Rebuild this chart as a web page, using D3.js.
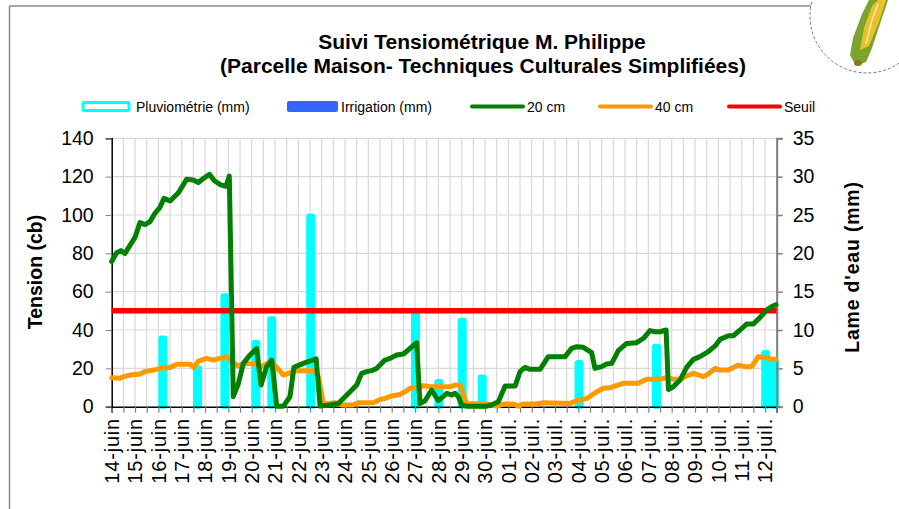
<!DOCTYPE html>
<html>
<head>
<meta charset="utf-8">
<script src="https://cdn.jsdelivr.net/npm/d3@7"></script>
<style>
  body { margin: 0; background: #fff; }
  svg { display: block; font-family: "Liberation Sans", Arial, sans-serif; }
</style>
</head>
<body>
<div id="chart"></div>
<script>
// day labels (one per day, from 14-juin)
var dayLabels = ["14-juin", "15-juin", "16-juin", "17-juin", "18-juin", "19-juin", "20-juin",
  "21-juin", "22-juin", "23-juin", "24-juin", "25-juin", "26-juin", "27-juin", "28-juin",
  "29-juin", "30-juin", "01-juil.", "02-juil.", "03-juil.", "04-juil.", "05-juil.", "06-juil.",
  "07-juil.", "08-juil.", "09-juil.", "10-juil.", "11-juil.", "12-juil."];

// 20 cm probe : time (days since 14-juin 0h) and tension (cb)
var t20 = [0, 0.21, 0.39, 0.57, 0.79, 1.0, 1.21, 1.43, 1.64, 1.86, 2.07, 2.24, 2.5, 2.86, 3.21, 3.5,
  3.71, 3.93, 4.19, 4.39, 4.67, 4.9, 5.04, 5.21, 5.43, 5.64, 5.93, 6.21, 6.4, 6.64, 6.86, 7.07,
  7.36, 7.64, 7.81, 8.21, 8.76, 8.93, 9.36, 9.71, 10.0, 10.29, 10.5, 10.71, 10.93, 11.14, 11.36,
  11.71, 11.93, 12.21, 12.5, 12.71, 13.07, 13.21, 13.43, 13.71, 14.0, 14.36, 14.57, 14.71, 14.86,
  15.0, 15.21, 16.07, 16.36, 16.57, 16.86, 17.29, 17.5, 17.71, 17.93, 18.36, 18.71, 19.43, 19.71,
  19.93, 20.21, 20.57, 20.71, 21.0, 21.21, 21.43, 21.71, 22.07, 22.5, 22.79, 23.07, 23.29, 23.5,
  23.76, 23.86, 24.07, 24.36, 24.64, 24.93, 25.21, 25.57, 25.86, 26.07, 26.43, 26.64, 26.93,
  27.21, 27.5, 27.79, 28.07, 28.29, 28.47];
var v20 = [75.7, 80.3, 81.4, 80, 84.3, 88.3, 96, 95, 96.5, 101, 104, 108.7, 107.3, 111.6, 118.6, 118.2,
  116.9, 119, 121.2, 118, 115.7, 115, 120.3, 5.2, 12.2, 22.6, 27, 30.4, 11.3, 20.9, 24.3, 0.3,
  0.3, 5.2, 20.5, 22.6, 25, 0.3, 0.9, 1.7, 5.2, 8.7, 11.3, 17.4, 18.3, 18.8, 20,
  24.3, 25.2, 27, 27.5, 29.6, 33.4, 1.7, 3.1, 8.7, 3.1, 7, 6.1, 7, 5.2,
  0.9, 0.3, 0.3, 1.4, 2.6, 10.8, 10.8, 18.3, 20.5, 19.5, 19.5, 26.1, 26.1, 30.4,
  31.3, 31, 28.2, 20, 20.9, 22.3, 22.6, 29.2, 33, 33.4, 35.7, 39.7, 39.1, 39.1,
  40, 9, 10.4, 13.9, 20.5, 24.7, 26.1, 28.7, 31.7, 35.1, 37, 37, 40,
  43.1, 43.1, 46.6, 50.4, 52.2, 53.2];

// 40 cm probe
var t40 = [0, 0.36, 0.5, 0.79, 1.21, 1.43, 1.79, 2.07, 2.5, 2.79, 3.36, 3.53, 3.71, 4.07, 4.36, 4.64,
  4.96, 5.14, 5.43, 5.71, 6.21, 6.43, 6.79, 6.93, 7.36, 7.64, 7.86, 8.71, 8.86, 9.07, 9.14, 9.57,
  9.86, 10.36, 10.57, 11.21, 11.5, 11.71, 12.0, 12.36, 12.57, 12.79, 13.21, 13.36, 13.64, 14.5,
  14.71, 14.93, 15.21, 16.07, 16.5, 16.79, 17.21, 17.43, 17.64, 18.21, 18.5, 19.64, 19.93, 20.36,
  20.79, 21.07, 21.36, 21.57, 21.93, 22.57, 22.93, 23.5, 23.79, 24.07, 24.36, 24.64, 24.93, 25.36,
  25.57, 25.86, 26.07, 26.43, 26.86, 27.14, 27.43, 27.71, 28.0, 28.29, 28.47];
var v40 = [15.1, 14.8, 15.7, 16.5, 17, 18.3, 19.1, 20, 20.5, 22.1, 22.1, 20.5, 23.8, 25.2, 24.3, 25.2,
  26.1, 23.5, 21.2, 22.6, 22.1, 20.9, 23.5, 22.6, 16.5, 17.7, 18.8, 18.8, 15.5, 1.7, 1.4, 2.1,
  0.9, 0.9, 2.1, 2.1, 3.8, 4.3, 5.6, 6.4, 7.8, 9.6, 10.1, 11, 10.4, 10.4,
  11.3, 11.3, 1.7, 1.4, 0.3, 1.4, 1.4, 0.3, 1.4, 1.4, 2.1, 1.7, 3.1, 4.3,
  7.8, 9.6, 9.9, 10.8, 12.2, 12.2, 14.3, 14.3, 15.3, 14.3, 14.3, 16, 17.4, 15.7,
  17, 20, 19.1, 19.1, 21.7, 20.9, 20.9, 26.1, 25.7, 24.7, 24.7];

// rainfall (mm)
var tPluie = [2.19, 3.68, 4.85, 6.18, 6.86, 8.53, 13.02, 14.02, 15.02, 15.88, 20.03, 23.35, 28.03, 28.4];
var vPluie = [9.3, 5.4, 14.8, 8.7, 11.8, 25.2, 12.6, 3.6, 11.6, 4.2, 6.1, 8.2, 7.4, 6.3];

var seuil = 50;
var yTicks = [0, 20, 40, 60, 80, 100, 120, 140];
var y2Ticks = [0, 5, 10, 15, 20, 25, 30, 35];

var W = 899, H = 509;
var svg = d3.select("#chart").append("svg").attr("width", W).attr("height", H);

// frame
svg.append("line").attr("x1", 9.5).attr("x2", 812).attr("y1", 6).attr("y2", 6)
  .attr("stroke", "#8a8a8a").attr("stroke-width", 1.5);
svg.append("line").attr("x1", 9.5).attr("x2", 9.5).attr("y1", 6).attr("y2", H)
  .attr("stroke", "#8a8a8a").attr("stroke-width", 1.5);

// corner logo (dashed circle + corn ear)
svg.append("circle").attr("cx", 867).attr("cy", 16).attr("r", 57)
  .attr("fill", "#fff").attr("stroke", "#555").attr("stroke-dasharray", "3,2").attr("stroke-width", 0.8);
svg.append("path").attr("d", "M856,66 L850,55 L853,38 L862,14 L869,0 L888,0 L880,24 L872,48 L866,62 Z")
  .attr("fill", "#7aa52a");
svg.append("path").attr("d", "M860,50 L864,28 L872,6 L878,0 L886,0 L879,22 L869,46 Z")
  .attr("fill", "#e8c032");
svg.append("path").attr("d", "M866,44 L872,20 L878,4").attr("stroke", "#fff4b0").attr("stroke-width", 1.2).attr("fill", "none");
svg.append("ellipse").attr("cx", 858).attr("cy", 63).attr("rx", 4).attr("ry", 3).attr("fill", "#8a7a1a");

// title
svg.append("text").attr("x", 482).attr("y", 49).attr("text-anchor", "middle")
  .style("font-size", "21px").style("font-weight", "bold").text("Suivi Tensiométrique M. Philippe");
svg.append("text").attr("x", 483).attr("y", 73).attr("text-anchor", "middle")
  .style("font-size", "21px").style("font-weight", "bold").text("(Parcelle Maison- Techniques Culturales Simplifiées)");

// scales
var x = d3.scaleLinear().domain([0, 28.5]).range([111.7, 776.7]);
var y = d3.scaleLinear().domain([0, 140]).range([406.7, 138.3]);
var y2 = d3.scaleLinear().domain([0, 35]).range([406.7, 138.3]);

// gridlines
var halfDays = d3.range(0, 57.5, 1).map(function (d) { return d / 2; });
svg.append("g").selectAll("line").data(halfDays.slice(1)).enter().append("line")
  .attr("x1", function (d) { return x(d); }).attr("x2", function (d) { return x(d); })
  .attr("y1", y(140)).attr("y2", y(0))
  .attr("stroke", "#d9d9d9").attr("stroke-width", 1.2);
svg.append("g").selectAll("line").data(yTicks.slice(1)).enter().append("line")
  .attr("x1", x(0)).attr("x2", x(28.5))
  .attr("y1", function (d) { return y(d); }).attr("y2", function (d) { return y(d); })
  .attr("stroke", "#d9d9d9").attr("stroke-width", 1.2);

// rain bars
svg.append("g").selectAll("rect").data(tPluie).enter().append("rect")
  .attr("x", function (d) { return x(d) - 4.5; })
  .attr("width", 9)
  .attr("y", function (d, i) { return y2(vPluie[i]); })
  .attr("height", function (d, i) { return y2(0) + 2 - y2(vPluie[i]); })
  .attr("rx", 3)
  .attr("fill", "#00ffff");

// axes
var xAxis = d3.axisBottom(x).tickValues(halfDays).tickSize(6).tickFormat("");
var gx = svg.append("g").attr("transform", "translate(0," + y(0) + ")").call(xAxis);
gx.select(".domain").attr("stroke", "#000").attr("stroke-width", 1.5);
gx.selectAll(".tick line").attr("stroke", "#808080").attr("stroke-width", 1.2);

svg.append("g").selectAll("text").data(dayLabels).enter().append("text")
  .attr("transform", function (d, i) { return "translate(" + x(i) + "," + 418 + ") rotate(-90)"; })
  .attr("dy", "0.36em")
  .attr("text-anchor", "end")
  .style("font-size", "20px")
  .style("letter-spacing", "0.8px")
  .text(function (d) { return d; });

var yAxis = d3.axisLeft(y).tickValues(yTicks).tickSize(6).tickPadding(12);
var gy = svg.append("g").attr("transform", "translate(" + x(0) + ",0)").call(yAxis);
gy.select(".domain").attr("stroke", "#000").attr("stroke-width", 1.5);
gy.selectAll(".tick line").attr("stroke", "#808080");
gy.selectAll("text").style("font-size", "19.5px").attr("fill", "#000").attr("font-family", "Liberation Sans, Arial, sans-serif");

var y2Axis = d3.axisRight(y2).tickValues(y2Ticks).tickSize(6).tickPadding(10);
var gy2 = svg.append("g").attr("transform", "translate(" + x(28.5) + ",0)").call(y2Axis);
gy2.select(".domain").attr("stroke", "#808080").attr("stroke-width", 2);
gy2.selectAll(".tick line").attr("stroke", "#808080").attr("stroke-width", 1.5);
gy2.selectAll("text").style("font-size", "19.5px").attr("fill", "#000").attr("font-family", "Liberation Sans, Arial, sans-serif");

svg.append("text").attr("transform", "translate(42,272) rotate(-90)")
  .attr("text-anchor", "middle").style("font-size", "19.5px").style("font-weight", "bold")
  .text("Tension (cb)");
svg.append("text").attr("transform", "translate(859,267) rotate(-90)")
  .attr("text-anchor", "middle").style("font-size", "19.5px").style("font-weight", "bold")
  .style("letter-spacing", "0.8px")
  .text("Lame d'eau (mm)");

// seuil
svg.append("line").attr("x1", x(0)).attr("x2", x(28.5)).attr("y1", y(seuil)).attr("y2", y(seuil))
  .attr("stroke", "#ff0000").attr("stroke-width", 5.5);

// lines
var line = d3.line().x(function (d) { return x(d[0]); }).y(function (d) { return y(d[1]); });
svg.append("path").datum(d3.zip(t40, v40)).attr("d", line)
  .attr("fill", "none").attr("stroke", "#ff9900").attr("stroke-width", 5)
  .attr("stroke-linejoin", "round").attr("stroke-linecap", "round");
svg.append("path").datum(d3.zip(t20, v20)).attr("d", line)
  .attr("fill", "none").attr("stroke", "#008000").attr("stroke-width", 5)
  .attr("stroke-linejoin", "round").attr("stroke-linecap", "round");

// legend
var lg = svg.append("g").style("font-size", "14px");
lg.append("rect").attr("x", 83).attr("y", 102.5).attr("width", 46).attr("height", 8)
  .attr("fill", "#fff").attr("stroke", "#00ffff").attr("stroke-width", 3).attr("rx", 1);
lg.append("text").attr("x", 136).attr("y", 111.5).text("Pluviométrie (mm)");
lg.append("rect").attr("x", 287).attr("y", 101).attr("width", 51).attr("height", 11)
  .attr("fill", "#3366ff").attr("rx", 2);
lg.append("text").attr("x", 341).attr("y", 111.5).text("Irrigation (mm)");
var lineLegend = [[472, "#008000", "20 cm"], [600, "#ff9900", "40 cm"], [729, "#ff0000", "Seuil"]];
lineLegend.forEach(function (l) {
  lg.append("line").attr("x1", l[0]).attr("x2", l[0] + 51).attr("y1", 106.5).attr("y2", 106.5)
    .attr("stroke", l[1]).attr("stroke-width", 4).attr("stroke-linecap", "round");
  lg.append("text").attr("x", l[0] + 55).attr("y", 111.5).text(l[2]);
});
</script>
</body>
</html>
